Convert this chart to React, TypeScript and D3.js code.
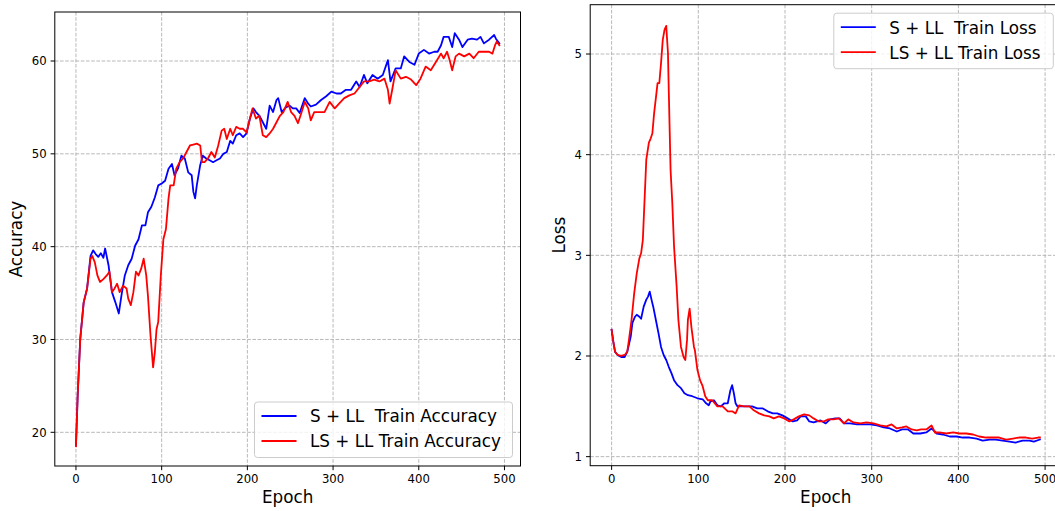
import * as React from "react";
import * as d3 from "d3";

type Pt = [number, number];

// tick labels
const epochTicks = [0, 100, 200, 300, 400, 500];
const accTicks = [20, 30, 40, 50, 60];
const lossTicks = [1, 2, 3, 4, 5];

// [epoch, accuracy]
const accS: Pt[] = [
  [0, 18.6], [2, 24], [5, 30.1], [9, 34.0], [13, 35.5], [17, 39.0], [20, 39.6], [23, 39.2], [26, 38.9],
  [29, 39.3], [32, 38.8], [34, 39.8], [38, 38.0], [42, 35.1], [46, 34.0], [50, 32.8], [53, 34.7],
  [57, 36.9], [61, 38.0], [65, 38.7], [69, 40.1], [73, 40.8], [77, 42.3], [81, 42.3], [84, 43.7],
  [88, 44.3], [92, 45.3], [96, 46.6], [100, 46.8], [104, 47.1], [108, 48.4], [112, 48.9], [115, 47.7],
  [119, 48.4], [123, 49.8], [127, 49.5], [131, 48.0], [135, 47.7], [137, 45.9], [139, 45.2], [141, 46.6],
  [145, 48.8], [148, 49.8], [152, 49.5], [156, 49.3], [160, 49.1], [164, 49.3], [168, 49.5], [172, 50.0],
  [176, 50.2], [180, 51.4], [183, 51.1], [187, 52.0], [191, 52.2], [195, 51.8], [199, 52.2], [203, 53.8],
  [207, 54.9], [210, 54.5], [214, 54.1], [218, 53.4], [222, 52.7], [226, 55.2], [230, 54.5], [234, 55.8],
  [236, 56.0], [240, 54.5], [245, 55.0], [249, 55.2], [253, 54.9], [257, 54.9], [261, 54.4], [267, 56.0],
  [271, 55.4], [274, 55.1], [280, 55.3], [286, 55.8], [292, 56.2], [298, 56.7], [304, 56.5], [309, 56.5],
  [315, 56.9], [321, 56.9], [327, 57.8], [331, 57.2], [336, 58.5], [340, 57.6], [346, 58.5], [352, 58.1],
  [358, 58.5], [364, 60.1], [367, 57.8], [373, 59.2], [379, 59.2], [383, 60.5], [389, 59.9], [395, 59.6],
  [400, 60.8], [406, 61.2], [412, 60.8], [418, 61.0], [422, 61.0], [426, 61.7], [429, 62.6], [435, 62.6],
  [439, 61.5], [442, 63.0], [447, 62.3], [451, 61.5], [457, 62.3], [462, 62.4], [468, 62.3], [472, 62.6],
  [476, 61.9], [482, 62.3], [488, 62.8], [490, 62.4], [494, 61.9],
];

const accLS: Pt[] = [
  [0, 18.5], [2, 24], [5, 30.0], [9, 34.0], [13, 35.5], [17, 38.7], [19, 39.0], [22, 38.3], [25, 36.9],
  [28, 36.2], [32, 36.5], [36, 36.9], [39, 37.3], [42, 35.1], [45, 35.5], [48, 36.0], [51, 35.1],
  [55, 35.8], [59, 35.5], [61, 34.4], [64, 33.7], [67, 35.1], [70, 37.3], [73, 36.9], [76, 37.6],
  [79, 38.7], [82, 36.9], [84, 34.7], [87, 30.4], [90, 27.0], [92, 28.6], [94, 31.1], [96, 31.9],
  [99, 36.9], [102, 40.8], [105, 41.9], [108, 45.2], [110, 46.6], [114, 46.6], [117, 48.4], [121, 49.1],
  [125, 49.5], [129, 50.2], [133, 50.9], [137, 51.0], [141, 51.1], [145, 50.9], [147, 49.1], [150, 49.1],
  [154, 49.5], [158, 50.2], [162, 49.6], [166, 50.9], [170, 52.5], [173, 52.7], [176, 51.6], [180, 52.7],
  [183, 52.0], [187, 52.9], [191, 52.7], [195, 52.7], [199, 52.3], [203, 53.8], [206, 54.9], [210, 53.8],
  [214, 54.1], [218, 52.0], [222, 51.8], [226, 52.2], [230, 52.7], [234, 53.4], [238, 54.1], [242, 54.5],
  [247, 55.6], [251, 54.5], [255, 54.1], [259, 53.3], [263, 54.4], [267, 55.6], [271, 54.9], [274, 53.6],
  [278, 54.5], [284, 54.5], [290, 54.5], [296, 55.6], [302, 54.9], [307, 55.4], [313, 56.0], [319, 56.3],
  [325, 56.5], [331, 57.2], [336, 57.8], [342, 57.8], [348, 58.0], [354, 57.8], [360, 58.1], [364, 56.9],
  [366, 55.4], [369, 56.9], [373, 59.0], [379, 58.1], [385, 58.3], [391, 58.0], [397, 57.4], [402, 58.1],
  [408, 59.4], [414, 59.0], [420, 59.9], [426, 60.8], [429, 60.3], [433, 61.0], [436, 60.1], [439, 59.0],
  [443, 60.5], [447, 60.8], [453, 60.5], [459, 60.8], [464, 60.3], [470, 61.0], [476, 61.0], [482, 61.0],
  [486, 60.8], [489, 61.7], [491, 62.1], [494, 61.7],
];

// [epoch, loss]
const lossS: Pt[] = [
  [0, 2.26], [2, 2.14], [4, 2.04], [7, 2.01], [11, 1.99], [15, 1.99], [18, 2.04], [22, 2.19], [24, 2.33],
  [27, 2.39], [29, 2.41], [32, 2.39], [34, 2.37], [37, 2.49], [40, 2.56], [42, 2.59], [44, 2.64],
  [46, 2.56], [48, 2.49], [51, 2.36], [54, 2.23], [57, 2.09], [60, 2.01], [63, 1.96], [66, 1.89],
  [69, 1.83], [72, 1.76], [76, 1.71], [80, 1.68], [84, 1.63], [88, 1.61], [93, 1.6], [99, 1.58],
  [105, 1.57], [109, 1.53], [112, 1.51], [114, 1.55], [118, 1.56], [122, 1.51], [126, 1.5], [130, 1.53],
  [134, 1.53], [137, 1.66], [139, 1.71], [141, 1.63], [143, 1.53], [145, 1.5], [151, 1.5], [157, 1.5],
  [162, 1.5], [168, 1.48], [174, 1.48], [180, 1.45], [186, 1.43], [191, 1.43], [197, 1.41], [203, 1.38],
  [209, 1.35], [214, 1.36], [218, 1.4], [224, 1.4], [228, 1.35], [233, 1.34], [241, 1.36], [247, 1.33],
  [252, 1.37], [258, 1.38], [263, 1.38], [268, 1.33], [275, 1.33], [283, 1.32], [291, 1.32], [298, 1.32],
  [306, 1.31], [314, 1.29], [321, 1.28], [329, 1.25], [335, 1.27], [342, 1.27], [348, 1.23], [356, 1.23],
  [363, 1.24], [369, 1.28], [375, 1.23], [382, 1.22], [390, 1.2], [398, 1.2], [405, 1.19], [413, 1.19],
  [421, 1.18], [428, 1.16], [436, 1.17], [443, 1.17], [451, 1.16], [459, 1.15], [466, 1.14], [474, 1.16],
  [482, 1.16], [487, 1.15], [494, 1.17],
];

const lossLS: Pt[] = [
  [0, 2.26], [2, 2.14], [4, 2.04], [7, 2.01], [11, 2.0], [15, 2.01], [18, 2.04], [20, 2.16], [23, 2.36],
  [26, 2.62], [29, 2.82], [32, 2.97], [34, 3.02], [36, 3.15], [38, 3.55], [40, 3.95], [43, 4.12],
  [45, 4.16], [47, 4.21], [49, 4.41], [51, 4.56], [53, 4.71], [55, 4.71], [57, 4.91], [59, 5.14],
  [61, 5.24], [63, 5.28], [65, 5.01], [66, 4.61], [68, 3.85], [70, 3.52], [72, 3.09], [75, 2.69],
  [77, 2.36], [80, 2.09], [83, 1.99], [85, 1.96], [87, 2.16], [88, 2.36], [90, 2.47], [92, 2.29],
  [95, 2.09], [96, 2.06], [99, 1.86], [102, 1.76], [105, 1.7], [108, 1.6], [111, 1.56], [116, 1.56],
  [122, 1.5], [128, 1.5], [134, 1.45], [139, 1.45], [143, 1.43], [147, 1.51], [153, 1.5], [159, 1.5],
  [164, 1.46], [170, 1.43], [176, 1.41], [182, 1.4], [187, 1.38], [193, 1.4], [199, 1.38], [205, 1.35],
  [210, 1.37], [216, 1.4], [222, 1.42], [228, 1.41], [233, 1.38], [239, 1.35], [245, 1.35], [250, 1.37],
  [256, 1.37], [262, 1.38], [268, 1.33], [273, 1.37], [279, 1.34], [287, 1.33], [294, 1.34], [302, 1.33],
  [310, 1.31], [317, 1.3], [323, 1.32], [329, 1.28], [335, 1.29], [340, 1.3], [346, 1.27], [352, 1.26],
  [357, 1.27], [363, 1.27], [369, 1.31], [373, 1.24], [378, 1.24], [386, 1.23], [394, 1.24], [401, 1.23],
  [409, 1.23], [417, 1.22], [424, 1.2], [432, 1.19], [440, 1.19], [447, 1.19], [455, 1.17], [463, 1.18],
  [470, 1.19], [478, 1.19], [485, 1.18], [492, 1.19], [494, 1.19],
];

const accLabels = ["S + LL  Train Accuracy", "LS + LL Train Accuracy"];
const lossLabels = ["S + LL  Train Loss", "LS + LL Train Loss"];
const seriesColors = ["#0000ff", "#ff0000"];

const FONT = "DejaVu Sans, Liberation Sans, sans-serif";
const epochDomain: [number, number] = [-24.7, 518.7];

interface PanelProps {
  left: number;
  right: number;
  top: number;
  bottom: number;
  yDomain: [number, number];
  yTicks: number[];
  yLabel: string;
  yLabelX: number;
  series: Pt[][];
  labels: string[];
  legendLoc: "lower right" | "upper right";
  legendW: number;
}

function Panel(p: PanelProps) {
  const x = d3.scaleLinear().domain(epochDomain).range([p.left, p.right]);
  const y = d3.scaleLinear().domain(p.yDomain).range([p.bottom, p.top]);
  const line = d3
    .line<Pt>()
    .x(d => x(d[0]))
    .y(d => y(d[1]));

  const legH = 55.5;
  const legX = p.right - 8 - p.legendW;
  const legY = p.legendLoc === "lower right" ? p.bottom - 8.5 - legH : p.top + 8.5;

  return (
    <g fontFamily={FONT}>
      {/* grid */}
      <g stroke="#b0b0b0" strokeWidth={0.9} strokeDasharray="3.6,1.6">
        {epochTicks.map(t => (
          <line key={"gx" + t} x1={x(t)} x2={x(t)} y1={p.top} y2={p.bottom} />
        ))}
        {p.yTicks.map(t => (
          <line key={"gy" + t} x1={p.left} x2={p.right} y1={y(t)} y2={y(t)} />
        ))}
      </g>

      {p.series.map((s, i) => (
        <path
          key={i}
          d={line(s) as string}
          fill="none"
          stroke={seriesColors[i]}
          strokeWidth={1.8}
          strokeLinejoin="round"
          strokeLinecap="square"
        />
      ))}

      <rect x={p.left} y={p.top} width={p.right - p.left} height={p.bottom - p.top} fill="none" stroke="#000" strokeWidth={1} />

      {/* x axis */}
      {epochTicks.map(t => (
        <g key={"xt" + t}>
          <line x1={x(t)} x2={x(t)} y1={p.bottom} y2={p.bottom + 4.2} stroke="#000" strokeWidth={1} />
          <text x={x(t)} y={p.bottom + 17.3} fontSize={11.7} textAnchor="middle" fill="#000">
            {t}
          </text>
        </g>
      ))}
      <text x={(p.left + p.right) / 2} y={p.bottom + 37.3} fontSize={16.8} textAnchor="middle" fill="#000">
        Epoch
      </text>

      {/* y axis */}
      {p.yTicks.map(t => (
        <g key={"yt" + t}>
          <line x1={p.left - 4.2} x2={p.left} y1={y(t)} y2={y(t)} stroke="#000" strokeWidth={1} />
          <text x={p.left - 8.2} y={y(t) + 4.2} fontSize={11.7} textAnchor="end" fill="#000">
            {t}
          </text>
        </g>
      ))}
      <text
        transform={`translate(${p.yLabelX},${(p.top + p.bottom) / 2}) rotate(-90)`}
        fontSize={16.8}
        textAnchor="middle"
        fill="#000"
      >
        {p.yLabel}
      </text>

      {/* legend */}
      <g transform={`translate(${legX},${legY})`}>
        <rect width={p.legendW} height={legH} rx={3} fill="#fff" fillOpacity={0.8} stroke="#cccccc" strokeWidth={1} />
        {p.labels.map((lab, i) => (
          <g key={lab} transform={`translate(0,${14 + i * 25})`}>
            <line x1={7} x2={42} y1={0} y2={0} stroke={seriesColors[i]} strokeWidth={1.8} />
            <text x={55.5} y={6.4} fontSize={16.8} fill="#000" style={{ whiteSpace: "pre" }}>
              {lab}
            </text>
          </g>
        ))}
      </g>
    </g>
  );
}

export default function App() {
  return (
    <svg
      width={1055}
      height={511}
      style={{ position: "absolute", left: 0, top: 0, background: "#fff" }}
    >
      <rect width={1055} height={511} fill="#fff" />
      <Panel
        left={54.8}
        right={520.5}
        top={12}
        bottom={466}
        yDomain={[16.37, 65.28]}
        yTicks={accTicks}
        yLabel="Accuracy"
        yLabelX={22}
        series={[accS, accLS]}
        labels={accLabels}
        legendLoc="lower right"
        legendW={258}
      />
      <Panel
        left={590.2}
        right={1061.3}
        top={4.7}
        bottom={465.7}
        yDomain={[0.91, 5.49]}
        yTicks={lossTicks}
        yLabel="Loss"
        yLabelX={564.5}
        series={[lossS, lossLS]}
        labels={lossLabels}
        legendLoc="upper right"
        legendW={219.5}
      />
    </svg>
  );
}
